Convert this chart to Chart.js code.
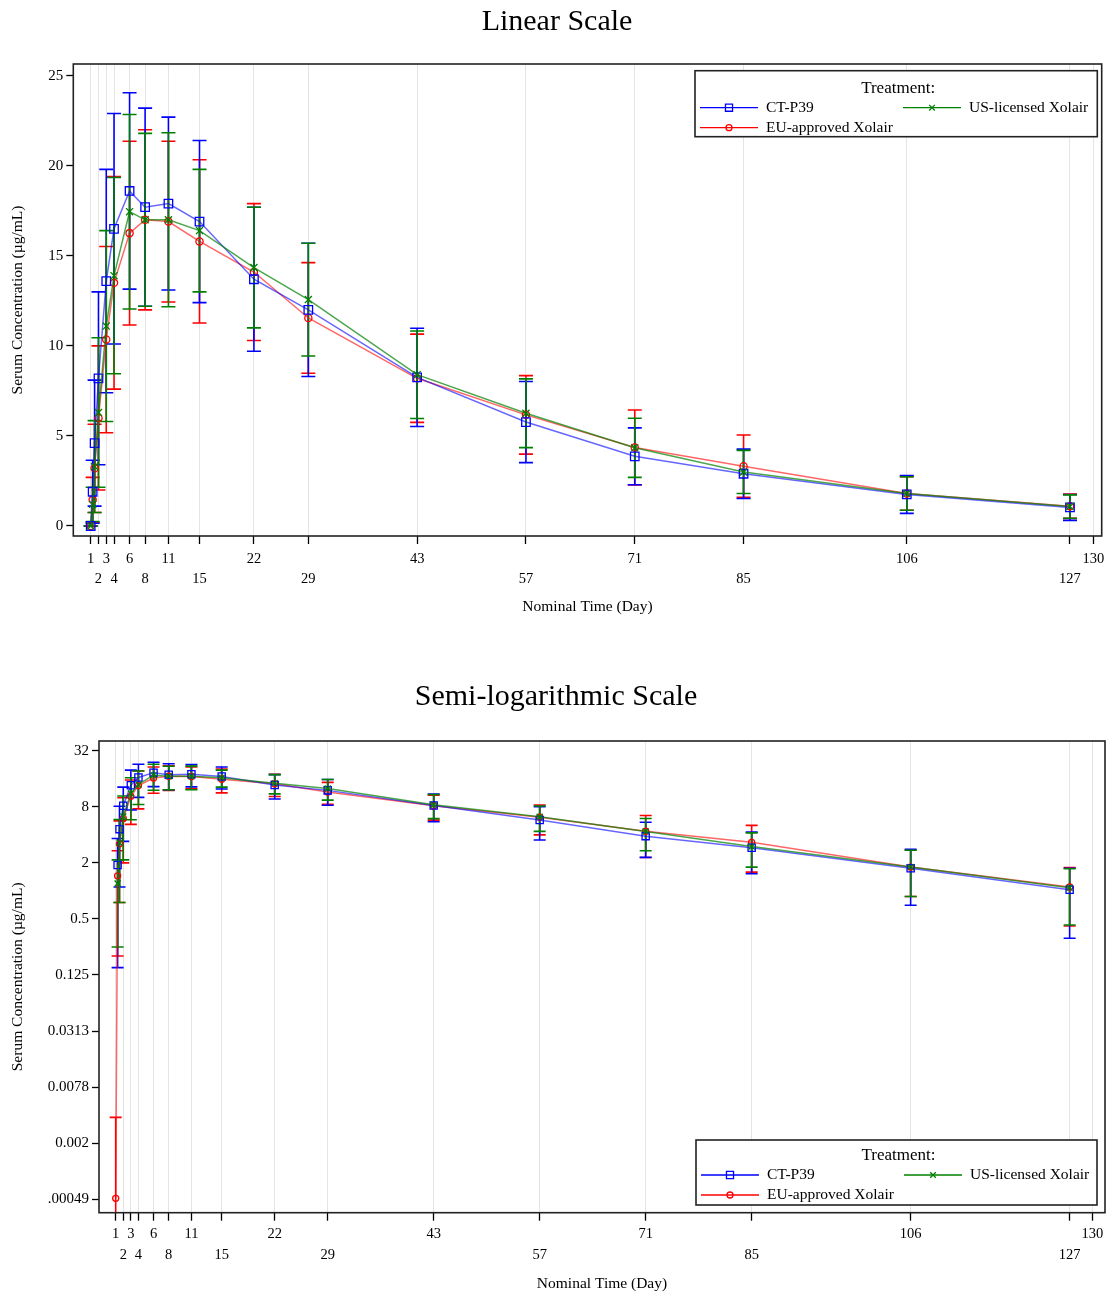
<!DOCTYPE html>
<html><head><meta charset="utf-8">
<script src="https://cdn.jsdelivr.net/npm/chart.js@4.4.1/dist/chart.umd.min.js"></script>
<style>
html,body{margin:0;padding:0;background:#fff;}
#wrap{position:relative;width:1109px;height:1294px;overflow:hidden;}
.box{position:absolute;left:0;height:647px;}
canvas{display:block;}
</style></head><body>
<div id="wrap">
<div class="box" style="top:0;width:1109px"><canvas id="c1" width="1109" height="647"></canvas></div>
<div class="box" style="top:647px;width:1112px"><canvas id="c2" width="1112" height="647"></canvas></div>
</div>
<script>
// ---- data ----
const days = [1, 1.25, 1.5, 2, 3, 4, 6, 8, 11, 15, 22, 29, 43, 57, 71, 85, 106, 127];
const xTickValues = [1, 2, 3, 4, 6, 8, 11, 15, 22, 29, 43, 57, 71, 85, 106, 127, 130];
const linTickValues = [0, 5, 10, 15, 20, 25];
const logTickValues = [Math.pow(2,-11), Math.pow(2,-9), Math.pow(2,-7), Math.pow(2,-5), Math.pow(2,-3), Math.pow(2,-1), 2, 8, 32];
const logTickLabels = ['.00049', '0.002', '0.0078', '0.0313', '0.125', '0.5', '2', '8', '32'];
const seriesNames = ['CT-P39', 'US-licensed Xolair', 'EU-approved Xolair'];

const ctp39Mean = [0, 1.9, 4.6, 8.2, 13.6, 16.5, 18.6, 17.7, 17.9, 16.9, 13.7, 12.0, 8.25, 5.77, 3.87, 2.9, 1.75, 1.03];
const ctp39Sd   = [0, 1.75, 3.5, 4.8, 6.2, 6.4, 5.45, 5.5, 4.8, 4.5, 4.0, 3.7, 2.73, 2.25, 1.58, 1.37, 1.05, 0.72];
const usMean = [0, 1.2, 3.3, 6.3, 11.1, 13.9, 17.45, 17.0, 17.0, 16.4, 14.35, 12.57, 8.4, 6.26, 4.34, 3.0, 1.8, 1.08];
const usSd   = [0, 0.95, 2.55, 4.15, 5.3, 5.45, 5.4, 4.8, 4.83, 3.4, 3.35, 3.13, 2.43, 1.91, 1.64, 1.2, 0.93, 0.65];
const euMean = [0.0005, 1.45, 3.2, 6.0, 10.35, 13.5, 16.26, 17.0, 16.9, 15.8, 14.1, 11.55, 8.2, 6.17, 4.36, 3.32, 1.8, 1.1];
const euSd   = [0.0032, 1.25, 2.45, 4.0, 5.17, 5.9, 5.1, 5.0, 4.46, 4.53, 3.8, 3.07, 2.45, 2.18, 2.08, 1.73, 0.93, 0.68];

// ---- styling ----
const FONT = "'Liberation Serif','Times New Roman',serif";
const BLUE = '#0000ff', RED = '#ff0000', GREEN = '#008000';
const series = [
  {name: seriesNames[1], mean: usMean, sd: usSd, color: GREEN, line: 'rgba(0,128,0,0.7)', style: 'crossRot', r: 5},
  {name: seriesNames[0], mean: ctp39Mean, sd: ctp39Sd, color: BLUE, line: 'rgba(0,0,255,0.6)', style: 'rect', r: 6},
  {name: seriesNames[2], mean: euMean, sd: euSd, color: RED, line: 'rgba(255,0,0,0.6)', style: 'circle', r: 3.6}
];

function marker(ctx, style, x, y, r, color) {
  ctx.save();
  ctx.strokeStyle = color; ctx.lineWidth = 1.3;
  ctx.beginPath();
  if (style === 'rect') { const s = r * Math.SQRT1_2; ctx.rect(x - s, y - s, 2 * s, 2 * s); }
  else if (style === 'circle') { ctx.arc(x, y, r, 0, Math.PI * 2); }
  else { const s = r * Math.SQRT1_2; ctx.moveTo(x - s, y - s); ctx.lineTo(x + s, y + s); ctx.moveTo(x + s, y - s); ctx.lineTo(x - s, y + s); }
  ctx.stroke();
  ctx.restore();
}

function makeChart(id, cfg) {
  const isLog = cfg.log;
  const errPlugin = {
    id: 'errbars',
    beforeDatasetsDraw(chart) {
      const {ctx, chartArea: a, scales: {x, y}} = chart;
      ctx.save();
      ctx.beginPath(); ctx.rect(a.left, a.top, a.right - a.left, a.bottom - a.top); ctx.clip();
      const drawOrder = [2, 1, 0];
      drawOrder.forEach(si => {
        const s = series[si];
        ctx.strokeStyle = s.color; ctx.lineWidth = 1.6;
        s.mean.forEach((m, i) => {
          if (isLog && !(m > 0)) return;
          const hi = m + s.sd[i], lo = m - s.sd[i];
          const px = x.getPixelForValue(days[i]);
          const pyHi = y.getPixelForValue(hi);
          const pyLo = (isLog && !(lo > 0)) ? a.bottom + 20 : y.getPixelForValue(lo);
          const cw = cfg.cap;
          ctx.beginPath();
          ctx.moveTo(px, pyHi); ctx.lineTo(px, pyLo);
          ctx.moveTo(px - cw, pyHi); ctx.lineTo(px + cw, pyHi);
          ctx.moveTo(px - cw, pyLo); ctx.lineTo(px + cw, pyLo);
          ctx.stroke();
        });
      });
      ctx.restore();
    }
  };
  const framePlugin = {
    id: 'frame',
    afterDraw(chart) {
      const {ctx, chartArea: a} = chart;
      ctx.save();
      ctx.fillStyle = '#000';
      ctx.font = '30px ' + FONT;
      ctx.textAlign = 'center';
      ctx.textBaseline = 'middle';
      ctx.fillText(cfg.title, cfg.titleX, cfg.titleY);
      ctx.strokeStyle = '#222'; ctx.lineWidth = 1.6;
      ctx.strokeRect(a.left, a.top, a.right - a.left, a.bottom - a.top);
      const L = cfg.legend;
      ctx.fillStyle = '#fff';
      ctx.fillRect(L.x, L.y, L.w, L.h);
      ctx.strokeRect(L.x, L.y, L.w, L.h);
      ctx.fillStyle = '#000';
      ctx.font = '17px ' + FONT;
      ctx.textBaseline = 'middle';
      ctx.textAlign = 'center';
      ctx.fillText('Treatment:', L.x + L.w / 2 + 2, L.ty);
      ctx.font = '15.5px ' + FONT;
      ctx.textAlign = 'left';
      const items = [
        {s: series[1], x: L.x + 5, y: L.r1},
        {s: series[0], x: L.x + 208, y: L.r1},
        {s: series[2], x: L.x + 5, y: L.r2}
      ];
      items.forEach(it => {
        ctx.strokeStyle = it.s.color; ctx.lineWidth = 1.3;
        ctx.beginPath(); ctx.moveTo(it.x, it.y); ctx.lineTo(it.x + 58, it.y); ctx.stroke();
        marker(ctx, it.s.style, it.x + 29, it.y, it.s.style === 'rect' ? 5 : (it.s.style === 'circle' ? 3 : 4), it.s.color);
        ctx.fillStyle = '#000';
        ctx.fillText(it.s.name, it.x + 66, it.y);
      });
      ctx.restore();
    }
  };
  const datasets = series.map(s => ({
    label: s.name,
    data: days.map((d, i) => ({x: d, y: (isLog && !(s.mean[i] > 0)) ? null : s.mean[i]})),
    borderColor: s.line,
    borderWidth: 1.5,
    pointStyle: s.style,
    pointRadius: isLog ? s.r * 0.85 : s.r,
    pointBorderColor: s.color,
    pointBackgroundColor: 'rgba(0,0,0,0)',
    pointBorderWidth: 1.3,
    fill: false,
    tension: 0,
    showLine: true
  }));
  const tickFont = {family: FONT, size: 14.5, lineHeight: 1.4};
  return new Chart(document.getElementById(id), {
    type: 'line',
    data: {datasets},
    plugins: [errPlugin, framePlugin],
    options: {
      responsive: false,
      animation: false,
      devicePixelRatio: 1,
      layout: {padding: {left: 0, right: cfg.padRight, top: cfg.padTop, bottom: cfg.padBottom}},
      plugins: {
        legend: {display: false},
        tooltip: {enabled: false},
        title: {display: false}
      },
      scales: {
        x: {
          type: 'linear', min: cfg.xmin, max: cfg.xmax,
          afterBuildTicks: s => { s.ticks = xTickValues.map(v => ({value: v})); },
          afterFit: s => { s.height = cfg.xHeight; s.paddingLeft = 0; s.paddingRight = 0; },
          ticks: {autoSkip: false, maxRotation: 0, minRotation: 0, padding: cfg.xTickPad, color: '#000', font: tickFont,
            callback: (v, i) => (i % 2 === 0 ? String(xTickValues[i]) : ['', String(xTickValues[i])])},
          grid: {color: '#e4e4e4', lineWidth: 1, tickLength: 8, tickColor: '#000', tickWidth: 1.3, drawOnChartArea: true},
          border: {display: false},
          title: {display: true, text: 'Nominal Time (Day)', color: '#000', font: {family: FONT, size: 15.5, lineHeight: 1.2}, padding: {top: 0, bottom: cfg.xTitlePad}}
        },
        y: {
          type: isLog ? 'logarithmic' : 'linear', min: cfg.ymin, max: cfg.ymax,
          afterBuildTicks: s => { s.ticks = (isLog ? logTickValues : linTickValues).map(v => ({value: v})); },
          afterFit: s => { s.width = cfg.yWidth; s.paddingTop = 0; s.paddingBottom = 0; },
          ticks: {padding: 3, color: '#000', font: {family: FONT, size: 15},
            callback: (v, i) => (isLog ? logTickLabels[i] : String(linTickValues[i]))},
          grid: {drawOnChartArea: false, tickLength: 7, tickColor: '#000', tickWidth: 1.3},
          border: {display: false},
          title: {display: true, text: 'Serum Concentration (µg/mL)', color: '#000', font: {family: FONT, size: 15.5, lineHeight: 1.2}, padding: {top: 9, bottom: 0}}
        }
      }
    }
  });
}

makeChart('c1', {
  log: false, title: 'Linear Scale', titleX: 557, titleY: 22, padTop: 64,
  xmin: -1.24, xmax: 131.08, ymin: -0.556, ymax: 25.65,
  yWidth: 73.3, xHeight: 84.4, padBottom: 26.6, padRight: 7.3, xTickPad: 5, xTitlePad: 4, cap: 7,
  legend: {x: 695, y: 70.7, w: 402.3, h: 66, ty: 89, r1: 107.7, r2: 127.7}
});
makeChart('c2', {
  log: true, title: 'Semi-logarithmic Scale', titleX: 556, titleY: 50, padTop: 94,
  xmin: -1.206, xmax: 131.67, ymin: Math.pow(2, -11.478), ymax: Math.pow(2, 5.346),
  yWidth: 99, xHeight: 80.7, padBottom: 0.6, padRight: 7, xTickPad: 3.6, xTitlePad: 0, cap: 6,
  legend: {x: 696, y: 493, w: 401, h: 65, ty: 509, r1: 528, r2: 548}
});
</script>
</body></html>
